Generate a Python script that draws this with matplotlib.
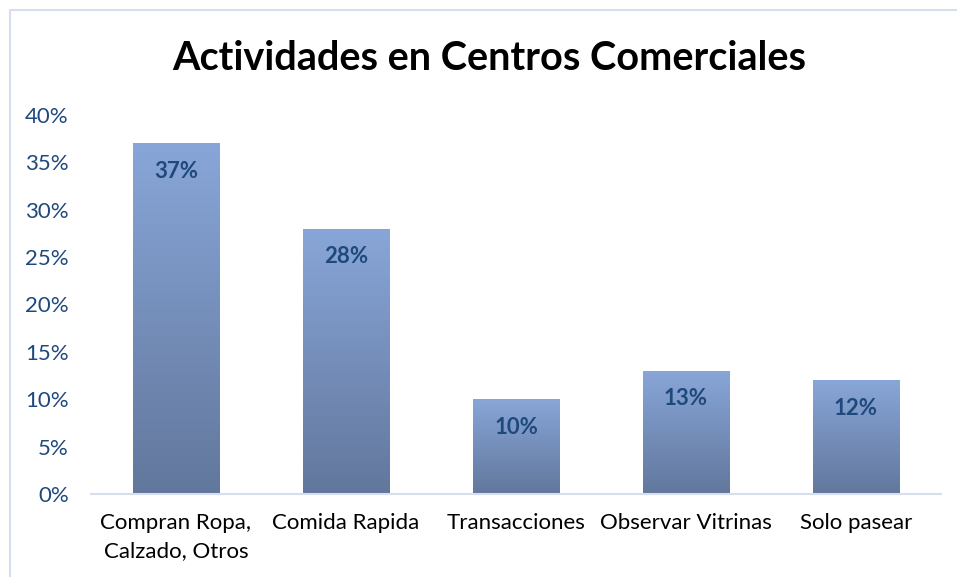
import numpy as np
import matplotlib
import matplotlib.pyplot as plt
from matplotlib.colors import LinearSegmentedColormap
from matplotlib.patches import Rectangle

matplotlib.use('Agg')

categories = ["Compran Ropa,\nCalzado, Otros", "Comida Rapida", "Transacciones",
              "Observar Vitrinas", "Solo pasear"]
values = [0.37, 0.28, 0.10, 0.13, 0.12]
yticks = [0, 0.05, 0.10, 0.15, 0.20, 0.25, 0.30, 0.35, 0.40]
ytick_labels = ["0%", "5%", "10%", "15%", "20%", "25%", "30%", "35%", "40%"]

plt.rcParams['font.family'] = ['Lato', 'DejaVu Sans']

fig = plt.figure(figsize=(9.57, 5.77), dpi=100)
fig.patches.append(Rectangle((10/957, -0.1), 1.2, (577-10)/577 + 0.1, transform=fig.transFigure,
                             fill=False, edgecolor='#D5DFEE', linewidth=1.5))
ax = fig.add_axes([91/957, 1-494/577, 850/957, (494-115)/577])

grad = LinearSegmentedColormap.from_list('g', ['#62779C', '#88A6D8'])
x = np.arange(len(categories))
bars = ax.bar(x, values, width=0.506, color='none', edgecolor='none')
img = np.linspace(0, 1, 256).reshape(-1, 1)
for b, v in zip(bars, values):
    im = ax.imshow(img, cmap=grad, origin='lower', aspect='auto',
                   extent=(b.get_x(), b.get_x() + b.get_width(), 0, v), zorder=2)
    im.set_clip_path(b)
    ax.annotate(f"{round(v*100)}%", (b.get_x() + b.get_width()/2, v), xytext=(0, -20),
                textcoords='offset points', ha='center', va='center', fontsize=16,
                fontweight='bold', color='#1F497D', zorder=3)

ax.set_xlim(-0.5, len(categories) - 0.5)
ax.set_ylim(0, 0.40)
ax.set_yticks(yticks)
ax.set_yticklabels(ytick_labels, fontsize=16, color='#1F497D')
ax.set_xticks(x)
ax.set_xticklabels(categories, fontsize=16, color='black', linespacing=1.45)
ax.tick_params(axis='y', length=0, pad=16)
ax.tick_params(axis='x', length=0, pad=14)
for s in ['top', 'right', 'left']:
    ax.spines[s].set_visible(False)
ax.spines['bottom'].set_color('#D5DFEE')
ax.spines['bottom'].set_linewidth(1.5)

fig.text(489/957, 1-58/577, "Actividades en Centros Comerciales", ha='center', va='center',
         fontsize=28.5, fontweight='bold')

plt.savefig('out.png', dpi=100)
